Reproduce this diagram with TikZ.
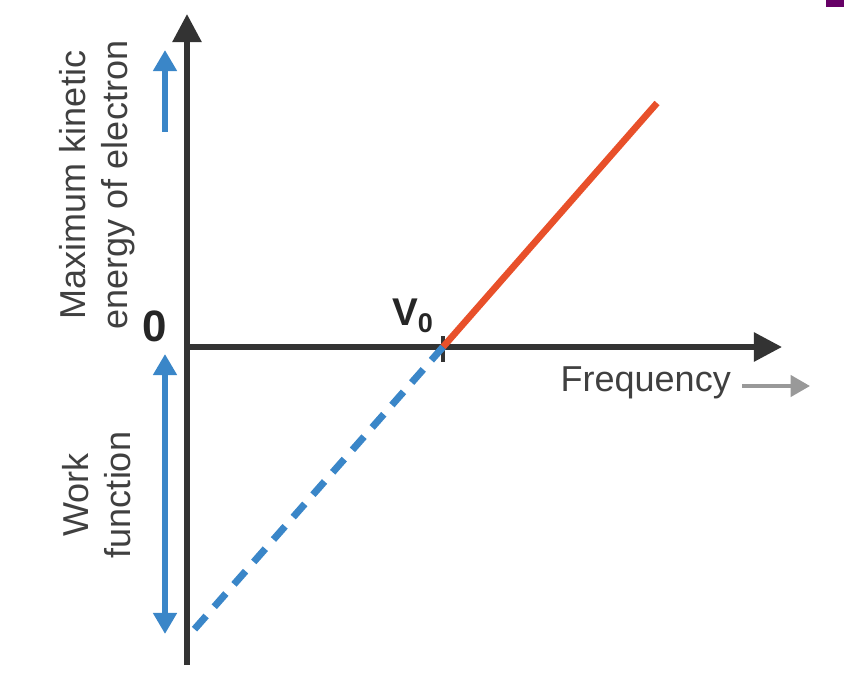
\documentclass[tikz,border=0pt]{standalone}
\usepackage{fontspec}
\setmainfont{Liberation Sans}
\usetikzlibrary{arrows.meta}
\definecolor{lineblue}{HTML}{3A86C8}
\definecolor{linered}{HTML}{E8502A}

\begin{document}
\begin{tikzpicture}[x=0.02cm,y=-0.02cm,
  axis/.style={line width=3.2pt,color=black!80,-{Triangle[length=16pt,width=16pt]}},
  bluearrow/.style={line width=3.2pt,color=lineblue,-{Triangle[length=12pt,width=13pt]}},
  lbl/.style={font=\fontsize{20.5}{24}\selectfont,color=black!75,align=center}]

  \useasboundingbox (0,0) rectangle (844,682);
  \fill[violet!80!black] (826,0) rectangle (844,7);

  % axes
  \coordinate (O) at (187,347);
  \coordinate (ybot) at (187,665);
  \coordinate (ytop) at (187,14);
  \coordinate (xend) at (782,347);
  \draw[axis] (ybot) -- (ytop);
  \draw[axis] (O) -- (xend);

  % threshold
  \coordinate (V) at (443,347);
  \draw[line width=2pt,black!80] (443,336) -- (443,362);
  \node[font=\fontsize{22}{24}\selectfont\bfseries,color=black!85] (vlab) at (413,316) {V\textsubscript{0}};
  \node[font=\fontsize{25}{27}\selectfont\bfseries,color=black!85] (zero) at (155,326) {0};

  % lines
  \coordinate (R) at (657,103);
  \coordinate (W) at (192,632);
  \draw[line width=3.8pt,color=linered] (V) -- (R);
  \draw[line width=4pt,color=lineblue,dash pattern=on 10pt off 7pt] (V) -- (W);

  % labels
  \node[lbl,anchor=east] (freq) at (737,383) {Frequency};
  \coordinate (ga) at (742,386);
  \coordinate (gb) at (810,386);
  \draw[line width=2.2pt,color=black!40,-{Triangle[length=11pt,width=12pt]}] (ga) -- (gb);

  \coordinate (ka) at (165,132);
  \coordinate (kb) at (165,50);
  \draw[bluearrow] (ka) -- (kb);
  \node[lbl,rotate=90] (ke) at (97,185) {Maximum kinetic\\energy of electron};

  \coordinate (wa) at (165,354);
  \coordinate (wb) at (165,634);
  \draw[bluearrow,{Triangle[length=12pt,width=13pt]}-{Triangle[length=12pt,width=13pt]}] (wa) -- (wb);
  \node[lbl,rotate=90] (wf) at (97,495) {Work\\function};
\end{tikzpicture}
\end{document}
